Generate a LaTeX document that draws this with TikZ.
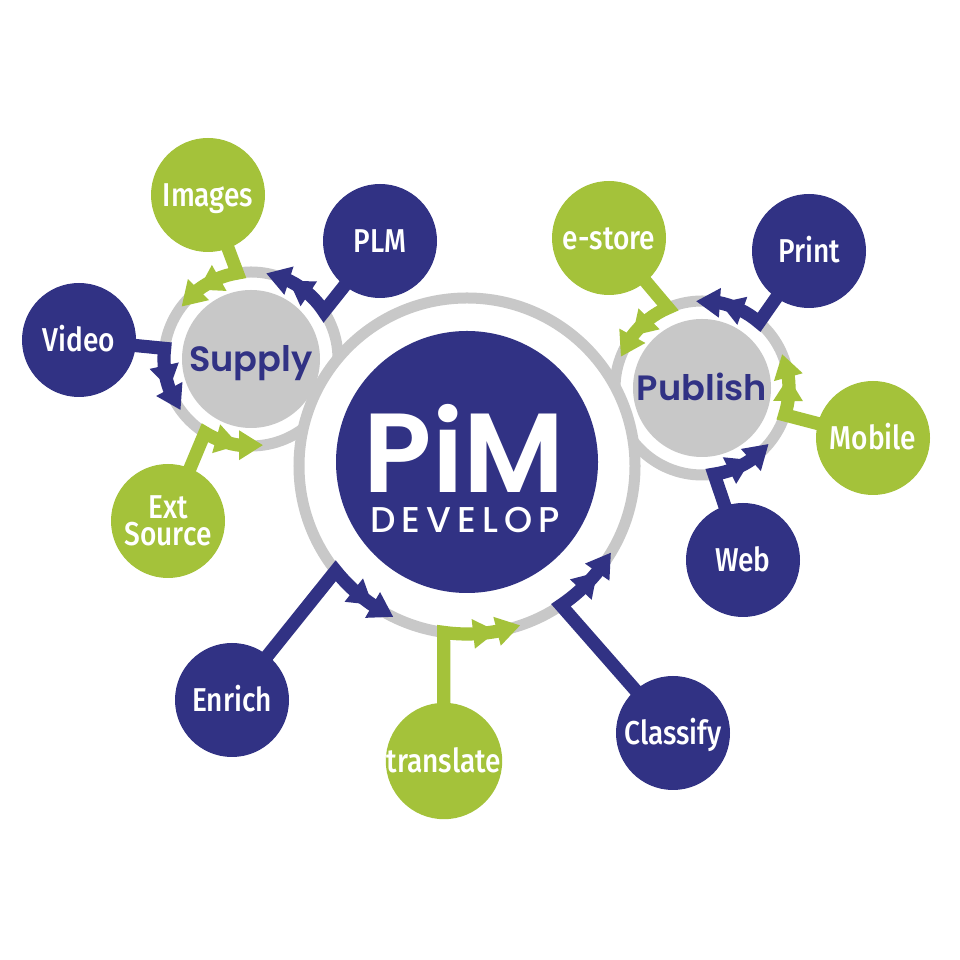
\documentclass[tikz,border=0pt]{standalone}
\usepackage{fontspec}
\usetikzlibrary{arrows.meta,bending,calc}
\IfFontExistsTF{Poppins SemiBold}{\newfontfamily\popfont{Poppins SemiBold}}{\newfontfamily\popfont{Poppins}}
\IfFontExistsTF{Poppins-Medium.otf}{\newfontfamily\popmed{Poppins-Medium.otf}}{%
  \IfFontExistsTF{Poppins-Medium.ttf}{\newfontfamily\popmed{Poppins-Medium.ttf}}{\newfontfamily\popmed{Poppins}}}
\IfFontExistsTF{Fira Sans Medium}{\newfontfamily\satfont[FakeStretch=0.85]{Fira Sans Medium}}{\newfontfamily\satfont[FakeStretch=0.85]{Fira Sans}}
\definecolor{pblue}{RGB}{49,50,132}
\definecolor{pgreen}{RGB}{164,194,58}
\definecolor{pgray}{RGB}{200,200,200}
\pgfdeclarelayer{back}
\pgfdeclarelayer{mid}
\pgfsetlayers{back,mid,main}
\begin{document}
\begin{tikzpicture}[x=0.25mm,y=0.25mm,
  ringc/.style={circle, draw=pgray, line width=2.75mm, inner sep=0pt},
  sat/.style={circle, minimum size=28.5mm, inner sep=0pt, text=white, align=center,
    font=\satfont\fontsize{23.5}{19.5}\selectfont},
  one/.style={text height=16pt, text depth=0pt},
  bsat/.style={sat, one, fill=pblue},
  gsat/.style={sat, one, fill=pgreen},
  hub/.style={circle, fill=pgray, minimum size=34.5mm, inner sep=0pt, text=pblue,
    font=\popfont\fontsize{25}{30}\selectfont, text height=17.8pt, text depth=0pt},
  conn/.style={line width=3.3mm, -{Triangle[length=6mm,width=7mm]Triangle[length=6mm,width=7mm]}},
  bconn/.style={conn, draw=pblue},
  gconn/.style={conn, draw=pgreen},
]
\begin{pgfonlayer}{back}
  \fill[white] (0,0) rectangle (960,960);
  % rings of Supply and Publish
  \node[ringc, minimum size=43.5mm] (supring) at (251,601) {};
  \node[ringc, minimum size=43.5mm] (pubring) at (702,572) {};
  % central ring and core
  \node[ringc, fill=white, minimum size=84mm] (cring) at (467,494) {};
  \node[circle, fill=pblue, minimum size=65.5mm, inner sep=0pt] (core) at (467,498) {};
  \node[anchor=base, text=white, inner sep=0pt, font=\popfont\fontsize{80}{90}\selectfont] (pim) at (464,467) {PiM};
  \node[anchor=base, text=white, inner sep=0pt, font=\popmed\fontsize{25.5}{30}\selectfont] (dev) at (465,427)
    {\makebox[47.5mm][s]{D\hfil E\hfil V\hfil E\hfil L\hfil O\hfil P}};
  % hubs
  \node[hub] (sup) at (251,601) {Supply};
  \node[hub] (pub) at (702,572) {Publish};
\end{pgfonlayer}
\useasboundingbox (0,0) rectangle (960,960);

% satellites
\node[gsat] (img) at (208,765) {Images};
\node[bsat] (plm) at (380,719) {PLM};
\node[bsat] (vid) at (79,620) {Video};
\node[sat, fill=pgreen] (ext) at (168,439) {Ext\\Source};
\node[gsat] (est) at (609,722) {e-store};
\node[bsat] (prt) at (809,709) {Print};
\node[gsat] (mob) at (873,522) {Mobile};
\node[bsat] (web) at (743,400) {Web};
\node[bsat] (enr) at (232,260) {Enrich};
\node[gsat] (trn) at (444,199) {translate};
\node[bsat] (cls) at (673,227) {Classify};

% connectors
\begin{pgfonlayer}{mid}
  \draw[gconn] (img.center) -- ($(sup.center)+(99:87)$) arc[start angle=99, end angle=143, radius=87];
  \draw[bconn] (plm.center) -- ($(sup.center)+(33:87)$) arc[start angle=33, end angle=80, radius=87];
  \draw[bconn] (vid.center) -- ($(sup.center)+(173:87)$) arc[start angle=173, end angle=216, radius=87];
  \draw[gconn] (ext.center) -- ($(sup.center)+(238:87)$) arc[start angle=238, end angle=278, radius=87];
  \draw[gconn] (est.center) -- ($(pub.center)+(113:87)$) arc[start angle=113, end angle=159, radius=87];
  \draw[bconn] (prt.center) -- ($(pub.center)+(49:87)$) arc[start angle=49, end angle=94, radius=87];
  \draw[gconn] (mob.center) -- ($(pub.center)+(-18:87)$) arc[start angle=-18, end angle=23, radius=87];
  \draw[bconn] (web.center) -- ($(pub.center)+(278:87)$) arc[start angle=278, end angle=320, radius=87];
  \draw[bconn] (enr.center) -- ($(cring.center)+(218.6:168)$) arc[start angle=218.6, end angle=244, radius=168];
  \draw[gconn] (trn.center) -- ($(cring.center)+(262:168)$) arc[start angle=262, end angle=288.5, radius=168];
  \draw[bconn] (cls.center) -- ($(cring.center)+(304:168)$) arc[start angle=304, end angle=329, radius=168];
\end{pgfonlayer}
\end{tikzpicture}
\end{document}
